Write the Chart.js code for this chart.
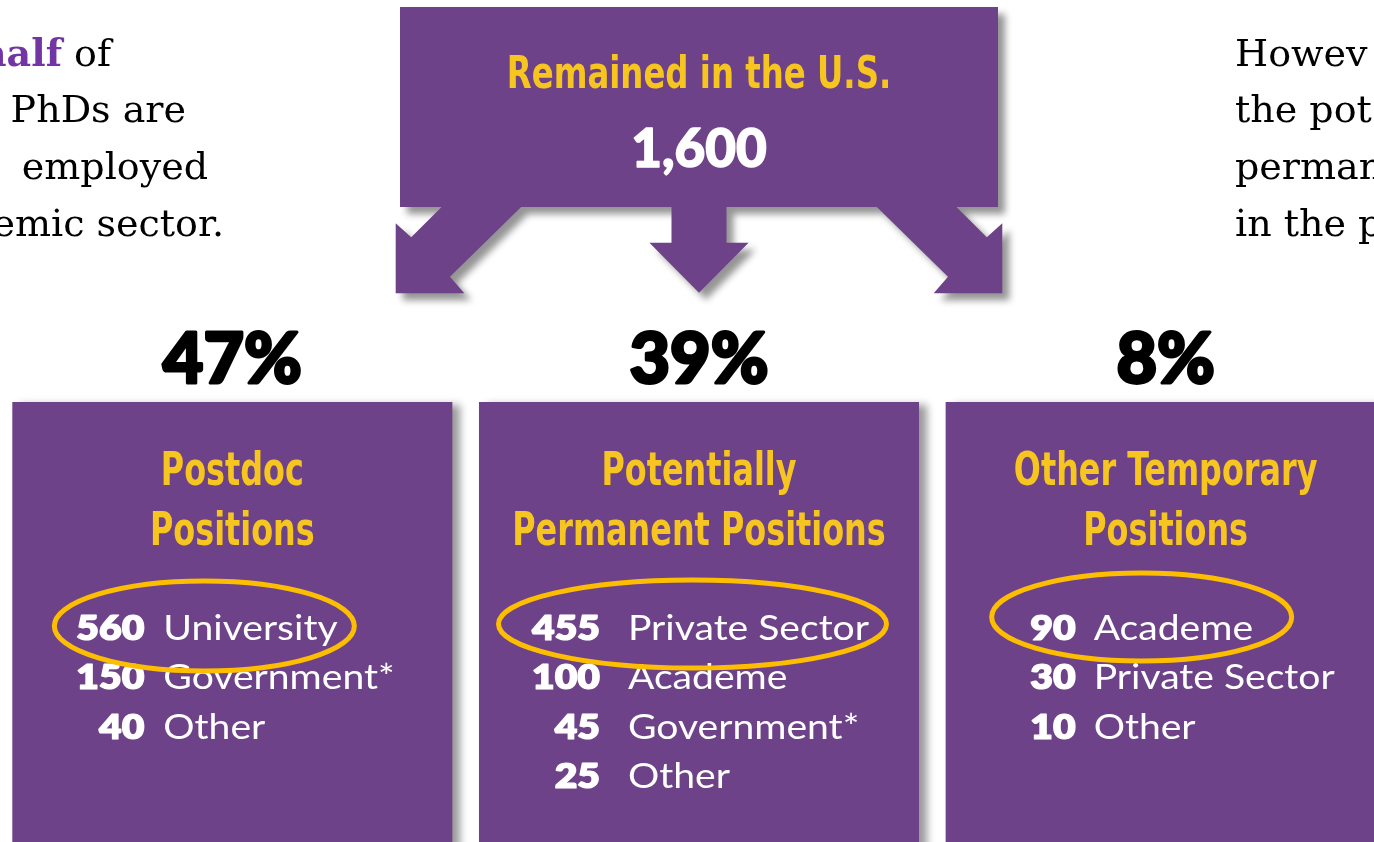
<!DOCTYPE html>
<html><head><meta charset="utf-8">
<script src="https://cdn.jsdelivr.net/npm/chart.js@4.4.1/dist/chart.umd.min.js"></script>
<style>
html,body{margin:0;padding:0;background:#fff;overflow:hidden;width:1374px;height:842px;}
#wrap{position:absolute;left:-1px;top:0;width:1400px;height:842px;}
</style></head><body>
<div id="wrap"><canvas id="c" width="1400" height="842"></canvas></div>
<script>
// ---- data ----
const categories = ['Postdoc Positions', 'Potentially Permanent Positions', 'Other Temporary Positions'];
const titleLines = [['Postdoc', 'Positions'], ['Potentially', 'Permanent Positions'], ['Other Temporary', 'Positions']];
const shares = [47, 39, 8];
const headline = 'Remained in the U.S.';
const totalRemained = 1600;
const postdocCounts = [560, 150, 40];
const postdocLabels = ['University', 'Government*', 'Other'];
const permanentCounts = [455, 100, 45, 25];
const permanentLabels = ['Private Sector', 'Academe', 'Government*', 'Other'];
const temporaryCounts = [90, 30, 10];
const temporaryLabels = ['Academe', 'Private Sector', 'Other'];
const leftNote = ['half of', 'PhDs are', 'employed', 'emic sector.'];
const rightNote = ['Howev', 'the pot', 'perman', 'in the p'];

// ---- style / layout ----
const PURPLE = '#6E4288', YELLOW = '#F6C51F', RING = '#FDBD00', NOTE_PURPLE = '#7334A4';
const TITLE_FONT = '"Liberation Sans Narrow", "DejaVu Sans Condensed", "Arial Narrow", sans-serif';
const NUM_FONT = 'Lato, "Open Sans", sans-serif';
const SERIF = '"DejaVu Serif", "Liberation Serif", serif';
const rowCounts = [postdocCounts, permanentCounts, temporaryCounts];
const rowLabels = [postdocLabels, permanentLabels, temporaryLabels];
const numRight = [-88, -99, -90];
const labelLeft = [-69, -71, -72];
const ringGeom = [[-28, 626, 150, 45], [-6.5, 624, 194, 44], [-24, 617, 150, 44]];
const rowBase = [640, 689.3, 738.6, 788];

function txt(ctx, s, x, y, align, sx, strokeW) {
  ctx.save();
  ctx.translate(x, y);
  ctx.scale(sx, 1);
  ctx.textAlign = align;
  if (strokeW) {
    ctx.lineWidth = strokeW; ctx.lineJoin = 'round';
    ctx.strokeStyle = ctx.fillStyle;
    ctx.strokeText(s, 0, 0);
  }
  ctx.fillText(s, 0, 0);
  ctx.restore();
}

function signedArea(pts) {
  let a = 0;
  for (let i = 0; i < pts.length; i++) {
    const p = pts[i], q = pts[(i + 1) % pts.length];
    a += p[0] * q[1] - q[0] * p[1];
  }
  return a;
}

function drawInfographic(chart) {
  const ctx = chart.ctx, xs = chart.scales.x;
  const centers = categories.map((_, i) => xs.getPixelForValue(i));
  const step = centers[1] - centers[0];
  const boxW = step * 0.943;
  const cx = centers[1];
  ctx.save();
  // --- top box with arrows (single path, consistent winding) ---
  const shapes = [];
  shapes.push([[cx - 299, 7], [cx + 299, 7], [cx + 299, 207], [cx - 299, 207]]);
  const arrowPts = [[-257.2, 200], [-257.2, 206.7], [-287.8, 237.3], [-303.3, 223.3], [-303.3, 293.3], [-234.7, 293.3], [-249, 276.7], [-177.6, 206.7], [-177.6, 200]];
  [1, -1].forEach(sgn => shapes.push(arrowPts.map(p => [cx + sgn * p[0], p[1]])));
  shapes.push([[cx - 27.5, 200], [cx + 27.5, 200], [cx + 27.5, 242.7], [cx + 49.6, 242.7], [cx, 292.7], [cx - 49.6, 242.7], [cx - 27.5, 242.7]]);
  const ref = Math.sign(signedArea(shapes[0]));
  ctx.fillStyle = PURPLE;
  ctx.shadowColor = 'rgba(0,0,0,0.42)';
  ctx.shadowBlur = 7; ctx.shadowOffsetX = 7; ctx.shadowOffsetY = 7;
  ctx.beginPath();
  shapes.forEach(s => {
    const pts = Math.sign(signedArea(s)) === ref ? s : s.slice().reverse();
    ctx.moveTo(pts[0][0], pts[0][1]);
    pts.slice(1).forEach(p => ctx.lineTo(p[0], p[1]));
    ctx.closePath();
  });
  ctx.fill('nonzero');
  // --- lower boxes ---
  ctx.shadowColor = 'rgba(0,0,0,0.40)';
  ctx.shadowBlur = 8; ctx.shadowOffsetX = 8; ctx.shadowOffsetY = 3;
  centers.forEach(c => { ctx.fillRect(c - boxW / 2, 402, boxW, 480); });
  ctx.shadowColor = 'transparent'; ctx.shadowBlur = 0; ctx.shadowOffsetX = 0; ctx.shadowOffsetY = 0;

  // --- top texts ---
  ctx.textBaseline = 'alphabetic';
  ctx.fillStyle = YELLOW;
  ctx.font = 'bold 45px ' + TITLE_FONT;
  txt(ctx, headline, cx, 88, 'center', 0.80, 0);
  ctx.fillStyle = '#fff';
  ctx.font = '900 53px ' + NUM_FONT;
  txt(ctx, totalRemained.toLocaleString('en-US'), cx, 167, 'center', 1, 1.5);

  // --- columns ---
  centers.forEach((c, i) => {
    ctx.fillStyle = '#000';
    ctx.font = '900 70px ' + NUM_FONT;
    txt(ctx, shares[i] + '%', c, 383, 'center', 1, 3);
    ctx.fillStyle = YELLOW;
    ctx.font = 'bold 46px ' + TITLE_FONT;
    titleLines[i].forEach((t, k) => txt(ctx, t, c, 485 + k * 60, 'center', 0.77, 0));
    ctx.fillStyle = '#fff';
    rowCounts[i].forEach((v, r) => {
      ctx.font = '800 34px ' + NUM_FONT;
      txt(ctx, String(v), c + numRight[i], rowBase[r], 'right', 1.15, 1.2);
      ctx.font = '400 34px ' + NUM_FONT;
      txt(ctx, rowLabels[i][r], c + labelLeft[i], rowBase[r], 'left', 1.15, 0);
    });
    const g = ringGeom[i];
    ctx.strokeStyle = RING; ctx.lineWidth = 5;
    ctx.beginPath();
    ctx.ellipse(c + g[0], g[1], g[2], g[3], 0, 0, Math.PI * 2);
    ctx.stroke();
  });

  // --- side notes ---
  const noteBase = [66, 122, 179, 236];
  const leftRight = [112, 187, 209, 225];
  ctx.font = '38px ' + SERIF;
  ctx.fillStyle = '#000';
  ctx.textAlign = 'right';
  leftNote.forEach((t, k) => {
    if (k === 0) {
      const parts = t.split(' ');
      const rest = ' ' + parts.slice(1).join(' ');
      ctx.fillText(rest, leftRight[0], noteBase[0]);
      const w = ctx.measureText(rest).width;
      ctx.font = 'bold 38px ' + SERIF;
      ctx.fillStyle = NOTE_PURPLE;
      ctx.fillText(parts[0], leftRight[0] - w, noteBase[0]);
      ctx.font = '38px ' + SERIF;
      ctx.fillStyle = '#000';
    } else {
      ctx.fillText(t, leftRight[k], noteBase[k]);
    }
  });
  ctx.textAlign = 'left';
  rightNote.forEach((t, k) => ctx.fillText(t, 1236, noteBase[k]));
  ctx.restore();
}

const infographic = { id: 'infographic', afterDraw: drawInfographic };

new Chart(document.getElementById('c'), {
  type: 'bar',
  data: { labels: categories, datasets: [{ label: 'Share', data: shares, backgroundColor: 'rgba(0,0,0,0)' }] },
  options: {
    responsive: false, animation: false,
    layout: { padding: 0 },
    plugins: { legend: { display: false }, tooltip: { enabled: false }, title: { display: false } },
    scales: { x: { display: false, offset: true }, y: { display: false, min: 0, max: 100 } }
  },
  plugins: [infographic]
});
</script>
</body></html>
